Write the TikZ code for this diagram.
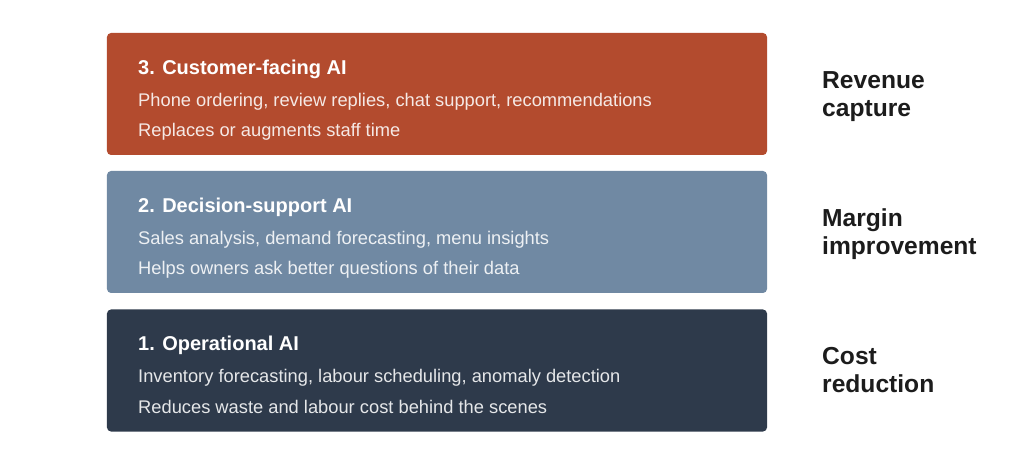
\documentclass[tikz,border=0pt]{standalone}
\usepackage{fontspec}
\setmainfont{Liberation Sans}
\usepackage{xcolor}
\usepackage{tikz}

\definecolor{rust}{HTML}{B34B2E}
\definecolor{slate}{HTML}{7089A3}
\definecolor{navy}{HTML}{2E3A4B}
\definecolor{labelink}{HTML}{1C1C1C}

\tikzset{
  layer/.style={rounded corners=4bp, minimum width=660bp, minimum height=122bp, inner sep=0pt},
  title/.style={anchor=base west, inner sep=0pt, text=white, font=\fontsize{20bp}{24bp}\selectfont\bfseries},
  body/.style={anchor=base west, inner sep=0pt, text=white, text opacity=0.88, font=\fontsize{18.3bp}{22bp}\selectfont},
  gain/.style={anchor=base west, inner sep=0pt, text=labelink, font=\fontsize{24.6bp}{29bp}\selectfont\bfseries}
}

\begin{document}
\begin{tikzpicture}[x=1bp, y=-1bp]
        % Fija el lienzo
        \useasboundingbox (0,0) rectangle (1024,463);

        % Dibuja las capas
        \node[layer, fill=rust]  (top) at (437,94)    {};
        \node[layer, fill=slate] (mid) at (437,232)   {};
        \node[layer, fill=navy]  (bot) at (437,370.5) {};

        % Textos de la capa 3
        \node[title] (t3) at (138,74.5)  {3. Customer-facing AI};
        \node[body]  (a3) at (138,106.5) {Phone ordering, review replies, chat support, recommendations};
        \node[body]  (b3) at (138,136.5) {Replaces or augments staff time};

        % Textos de la capa 2
        \node[title] (t2) at (138,212.5) {2. Decision-support AI};
        \node[body]  (a2) at (138,244.5) {Sales analysis, demand forecasting, menu insights};
        \node[body]  (b2) at (138,274.5) {Helps owners ask better questions of their data};

        % Textos de la capa 1
        \node[title] (t1) at (138,351)   {1. Operational AI};
        \node[body]  (a1) at (138,383)   {Inventory forecasting, labour scheduling, anomaly detection};
        \node[body]  (b1) at (138,413)   {Reduces waste and labour cost behind the scenes};

        % Coloca las etiquetas de la derecha
        \node[gain] (g3a) at (822,89)  {Revenue};
        \node[gain] (g3b) at (822,117) {capture};
        \node[gain] (g2a) at (822,227) {Margin};
        \node[gain] (g2b) at (822,255) {improvement};
        \node[gain] (g1a) at (822,365) {Cost};
        \node[gain] (g1b) at (822,393) {reduction};
    \end{tikzpicture}
\end{document}
